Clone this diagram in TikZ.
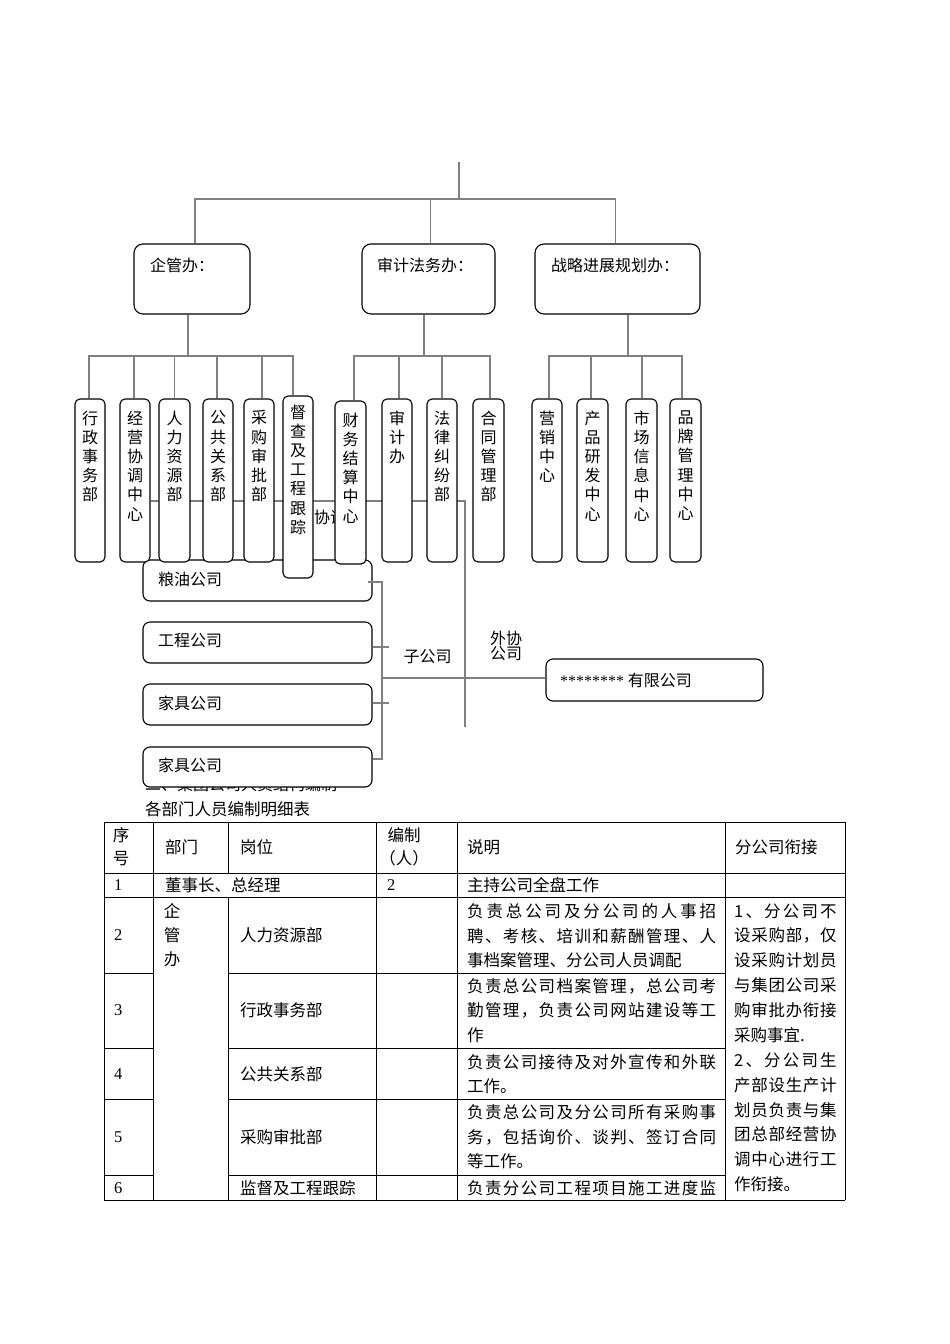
\documentclass[tikz,border=0pt]{standalone}
\usepackage{fontspec}
\setmainfont{Liberation Serif}
\newfontfamily\cjk{Noto Sans CJK SC}
\definecolor{linegray}{HTML}{808080}
\makeatletter
\def\spreadchars#1{\spread@#1\@nil}
\def\spread@#1{\ifx#1\@nil\else#1\hskip 0pt plus 1fil\relax\expandafter\spread@\fi}
\makeatother
\newcommand\jline[2]{\hbox to #1{\spreadchars{#2}\unskip}}
\newcommand\tightls{\lineskiplimit=-10pt\relax}
\pgfdeclarelayer{bg}
\pgfsetlayers{bg,main}
\tikzset{
  conn/.style={draw=linegray, line width=1.6pt},
  obox/.style={draw=black, line width=1.1pt, fill=white, rounded corners=9pt, inner sep=0, minimum height=70pt},
  dbox/.style={draw=black, line width=1.1pt, fill=white, rounded corners=5pt, inner sep=0, minimum width=30pt},
  sbox/.style={draw=black, line width=1.1pt, fill=white, rounded corners=7pt, inner sep=0, minimum width=229pt, minimum height=41pt},
  vlab/.style={font=\cjk\fontsize{16}{19.2}\selectfont, align=center, inner sep=0, anchor=north},
  lab/.style={font=\cjk\fontsize{16}{19}\selectfont, inner sep=0, anchor=west},
  tl/.style={font=\cjk\fontsize{16.5}{24}\selectfont, inner sep=0, anchor=west},
  tc/.style={font=\cjk\fontsize{16.5}{24}\selectfont, inner sep=0},
  num/.style={font=\fontsize{16.5}{20}\selectfont, inner sep=0, anchor=west},
  grid/.style={draw=black, line width=0.8pt}
}
\begin{document}
\begin{tikzpicture}[x=1pt,y=-1pt]
\useasboundingbox (0,0) rectangle (950,1344);
\begin{pgfonlayer}{bg}
\fill[white] (0,0) rectangle (950,1344);
\end{pgfonlayer}

% ---------- top-level boxes ----------
\node[obox, minimum width=116pt] (q) at (192,279) {};
\node[obox, minimum width=133pt] (s) at (428.5,279) {};
\node[obox, minimum width=165pt] (z) at (617.5,279) {};
\node[lab] (ql) at (150,265) {企管办：};
\node[lab] (sl) at (377,265) {审计法务办：};
\node[lab] (zl) at (551,265) {战略进展规划办：};

% ---------- subsidiary boxes ----------
\node[lab] (title2) at (145,784) {二、集团公司人员结构编制};
\node[sbox] (c1) at (257.5,580.5) {};
\node[sbox] (c2) at (257.5,642.5) {};
\node[sbox] (c3) at (257.5,704.5) {};
\node[sbox, minimum height=40pt] (c4) at (257.5,767) {};
\node[lab] (c1l) at (158,579) {粮油公司};
\node[lab] (c2l) at (158,641) {工程公司};
\node[lab] (c3l) at (158,703) {家具公司};
\node[lab] (c4l) at (158,765) {家具公司};
\node[draw=black, line width=1.1pt, fill=white, rounded corners=7pt, inner sep=0, minimum width=217pt, minimum height=42pt] (e1) at (654.5,680) {};
\node[lab] (e1l) at (560,680) {{\rmfamily ********} 有限公司};

% ---------- department boxes ----------
\node[dbox, minimum height=163pt] (d1) at (90,480.5) {};
\node[dbox, minimum height=163pt] (d2) at (135,480.5) {};
\node[dbox, minimum height=163pt, minimum width=31pt] (d3) at (174.5,480.5) {};
\node[dbox, minimum height=163pt] (d4) at (218,480.5) {};
\node[dbox, minimum height=163pt] (d5) at (259,480.5) {};
\node[dbox, minimum height=182pt] (d6) at (298,487) {};
\node[dbox, minimum height=163pt, minimum width=31pt] (d7) at (350.5,482.5) {};
\node[dbox, minimum height=163pt] (d8) at (397,480.5) {};
\node[dbox, minimum height=163pt] (d9) at (442,480.5) {};
\node[dbox, minimum height=163pt, minimum width=31pt] (d10) at (488.5,480.5) {};
\node[dbox, minimum height=163pt] (d11) at (547,480.5) {};
\node[dbox, minimum height=163pt, minimum width=31pt] (d12) at (592.5,480.5) {};
\node[dbox, minimum height=163pt, minimum width=31pt] (d13) at (641.5,480.5) {};
\node[dbox, minimum height=163pt, minimum width=31pt] (d14) at (685.5,480.5) {};

\node[vlab] (t1) at (90,410.5) {行\\政\\事\\务\\部};
\node[vlab] (t2) at (135,410.5) {经\\营\\协\\调\\中\\心};
\node[vlab] (t3) at (174.5,410.5) {人\\力\\资\\源\\部};
\node[vlab] (t4) at (218,410.5) {公\\共\\关\\系\\部};
\node[vlab] (t5) at (259,410.5) {采\\购\\审\\批\\部};
\node[vlab] (t6) at (298,404.5) {督\\查\\及\\工\\程\\跟\\踪};
\node[vlab] (t7) at (350.5,412.5) {财\\务\\结\\算\\中\\心};
\node[vlab] (t8) at (397,410.5) {审\\计\\办};
\node[vlab] (t9) at (442,410.5) {法\\律\\纠\\纷\\部};
\node[vlab] (t10) at (488.5,410.5) {合\\同\\管\\理\\部};
\node[vlab] (t11) at (547,410.5) {营\\销\\中\\心};
\node[vlab] (t12) at (592.5,410.5) {产\\品\\研\\发\\中\\心};
\node[vlab] (t13) at (641.5,410.5) {市\\场\\信\\息\\中\\心};
\node[vlab] (t14) at (685.5,410.5) {品\\牌\\管\\理\\中\\心};

% ---------- connectors (behind) ----------
\coordinate (root) at (459,162);
\coordinate (bus0) at (459,199);
\coordinate (qb) at (188,356);
\coordinate (sb) at (424,356);
\coordinate (zb) at (628,356);
\coordinate (mj) at (465,501);
\coordinate (mbot) at (465,727);
\begin{pgfonlayer}{bg}
\draw[conn] (root) -- (bus0);
\draw[conn] ([xshift=3pt]q.north) |- (bus0) -| ([xshift=-2pt]z.north);
\draw[conn] ([xshift=2pt]s.north) -- ([xshift=2pt]s.north |- bus0);
% group 1
\draw[conn] (qb |- q.south) -- (qb);
\draw[conn] ([xshift=-1pt]d1.north) |- (qb) -| ([xshift=-5pt]d6.north);
\draw[conn] ([xshift=-1pt]d2.north) -- ([xshift=-1pt]d2.north |- qb);
\draw[conn] (d3.north) -- (d3.north |- qb);
\draw[conn] ([xshift=-1pt]d4.north) -- ([xshift=-1pt]d4.north |- qb);
\draw[conn] ([xshift=3pt]d5.north) -- ([xshift=3pt]d5.north |- qb);
% group 2
\draw[conn] (sb |- s.south) -- (sb);
\draw[conn] ([xshift=3.5pt]d7.north) |- (sb) -| ([xshift=1.5pt]d10.north);
\draw[conn] ([xshift=2pt]d8.north) -- ([xshift=2pt]d8.north |- sb);
\draw[conn] (d9.north) -- (d9.north |- sb);
% group 3
\draw[conn] (zb |- z.south) -- (zb);
\draw[conn] ([xshift=2pt]d11.north) |- (zb) -| ([xshift=-3.5pt]d14.north);
\draw[conn] ([xshift=-1.5pt]d12.north) -- ([xshift=-1.5pt]d12.north |- zb);
\draw[conn] ([xshift=0.5pt]d13.north) -- ([xshift=0.5pt]d13.north |- zb);
% middle line
\draw[conn] (d2.east |- mj) -- (mj) -- (mbot);
\node[lab, anchor=center] (xt) at (330,517) {协调};
\end{pgfonlayer}

% ---------- subsidiary bracket ----------
\coordinate (bt) at (382,582);
\coordinate (bb) at (382,759);
\coordinate (bm) at (382,678);
\draw[conn] ([xshift=-5pt]c1.east |- bt) -- (bt) -- (bb) -- (c4.east |- bb);
\draw[conn] ([yshift=-4.5pt]c2.east) -- ++(16,0);
\draw[conn] ([yshift=1.5pt]c3.east) -- ++(16,0);
\draw[conn] (bm) -- (bm -| e1.west);
\node[lab, anchor=center] (zg) at (427.5,657) {子公司};
\node[font={\cjk\fontsize{16}{15}\selectfont\tightls}, align=left, inner sep=0] (wx) at (506,645.5) {外协\\公司};

% ---------- table ----------
\node[lab, font=\cjk\fontsize{16.5}{19}\selectfont] (ttl) at (145,809) {各部门人员编制明细表};
\draw[grid] (104,822) -- (845,822);
\draw[grid] (104,873) -- (845,873);
\draw[grid] (104,897) -- (845,897);
\foreach \yy in {973,1048,1099,1175} {
  \draw[grid] (104,\yy) -- (153,\yy);
  \draw[grid] (228,\yy) -- (725,\yy);
}
\draw[grid] (104,1200) -- (845,1200);
\foreach \xx in {104,153,376,457,725,845} \draw[grid] (\xx,822) -- (\xx,1200);
\draw[grid] (228,822) -- (228,873);
\draw[grid] (228,897) -- (228,1200);

% header
\node[tc, align=center, font=\cjk\fontsize{16.5}{23}\selectfont] (h1) at (121,846.5) {序\\号};
\node[tl] (h2) at (165,847) {部门};
\node[tl] (h3) at (240,847) {岗位};
\node[tc, align=center, font=\cjk\fontsize{16.5}{23}\selectfont] (h4) at (404,846.5) {编制\\（人）};
\node[tl] (h5) at (467,847) {说明};
\node[tl] (h6) at (735,847) {分公司衔接};

% row 1
\node[num] (n1) at (114,885) {1};
\node[tl] (r1b) at (165,885) {董事长、总经理};
\node[num] (r1c) at (387,885) {2};
\node[tl] (r1d) at (467,885) {主持公司全盘工作};

% merged dept column
\node[tc, align=center, font=\cjk\fontsize{16.5}{24}\selectfont, anchor=north] (qg) at (172,903) {企\\管\\办};

% row numbers
\node[num] (n2) at (114,935) {2};
\node[num] (n3) at (114,1010) {3};
\node[num] (n4) at (114,1074) {4};
\node[num] (n5) at (114,1137) {5};
\node[num] (n6) at (114,1188) {6};

% positions
\node[tl] (p2) at (240,935) {人力资源部};
\node[tl] (p3) at (240,1010) {行政事务部};
\node[tl] (p4) at (240,1074) {公共关系部};
\node[tl] (p5) at (240,1137) {采购审批部};
\node[tl] (p6) at (240,1188) {监督及工程跟踪};

% descriptions
\node[tl] (s2a) at (467,911) {\jline{249pt}{负责总公司及分公司的人事招}};
\node[tl] (s2b) at (467,936) {\jline{249pt}{聘、考核、培训和薪酬管理、人}};
\node[tl] (s2c) at (467,960) {事档案管理、分公司人员调配};
\node[tl] (s3a) at (467,986) {\jline{249pt}{负责总公司档案管理，总公司考}};
\node[tl] (s3b) at (467,1010) {\jline{249pt}{勤管理，负责公司网站建设等工}};
\node[tl] (s3c) at (467,1035) {作};
\node[tl] (s4a) at (467,1062) {\jline{249pt}{负责公司接待及对外宣传和外联}};
\node[tl] (s4b) at (467,1086) {工作。};
\node[tl] (s5a) at (467,1112) {\jline{249pt}{负责总公司及分公司所有采购事}};
\node[tl] (s5b) at (467,1137) {\jline{249pt}{务，包括询价、谈判、签订合同}};
\node[tl] (s5c) at (467,1161) {等工作。};
\node[tl] (s6a) at (467,1188) {\jline{249pt}{负责分公司工程项目施工进度监}};

% branch column
\node[tl] (f1) at (734,911) {\jline{102.5pt}{1、分公司不}};
\node[tl] (f2) at (734,935.5) {\jline{102.5pt}{设采购部，仅}};
\node[tl] (f3) at (734,960) {\jline{102.5pt}{设采购计划员}};
\node[tl] (f4) at (734,985) {\jline{102.5pt}{与集团公司采}};
\node[tl] (f5) at (734,1010) {\jline{102.5pt}{购审批办衔接}};
\node[tl] (f6) at (734,1035) {采购事宜.};
\node[tl] (f7) at (734,1060) {\jline{102.5pt}{2、分公司生}};
\node[tl] (f8) at (734,1085) {\jline{102.5pt}{产部设生产计}};
\node[tl] (f9) at (734,1110) {\jline{102.5pt}{划员负责与集}};
\node[tl] (f10) at (734,1134.5) {\jline{102.5pt}{团总部经营协}};
\node[tl] (f11) at (734,1159) {\jline{102.5pt}{调中心进行工}};
\node[tl] (f12) at (734,1184) {作衔接。};
\end{tikzpicture}
\end{document}
